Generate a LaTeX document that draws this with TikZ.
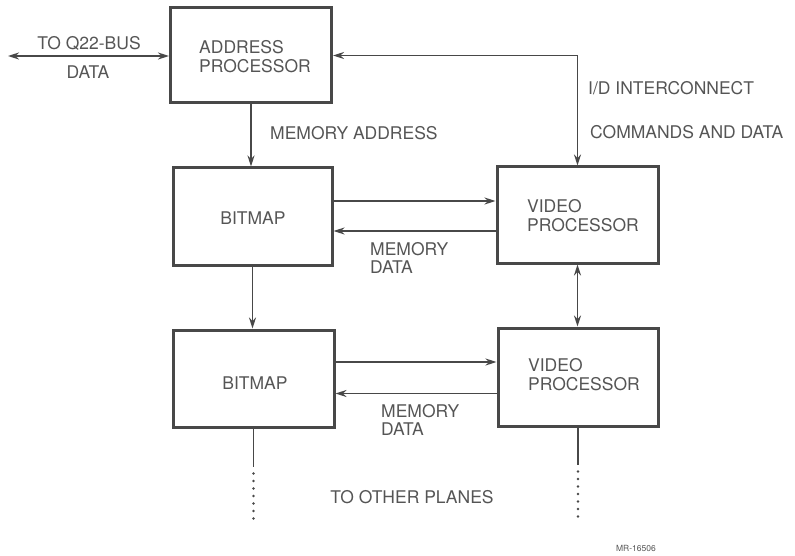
\documentclass[tikz,border=0pt]{standalone}
\usepackage{fontspec}
\setmainfont{TeX Gyre Heros}
\usetikzlibrary{arrows.meta}
\definecolor{ink}{HTML}{484848}
\definecolor{txt}{HTML}{555555}
\tikzset{
  blk/.style={draw=ink, line width=3pt, rectangle, inner sep=0pt},
  conn/.style={draw=ink, line width=1.8pt, -{Stealth[length=11pt,width=7pt]}},
  conn2/.style={draw=ink, line width=1.8pt, {Stealth[length=11pt,width=7pt]}-{Stealth[length=11pt,width=7pt]}},
  plain/.style={draw=ink, line width=1.8pt},
  dots/.style={draw=ink, line width=2.6pt, line cap=round, dash pattern=on 0pt off 7.5pt},
  lbl/.style={text=txt, font=\fontsize{17.5}{20}\selectfont, inner sep=0pt, align=left},
}
\begin{document}
\begin{tikzpicture}[x=1pt,y=-1pt]
\useasboundingbox (0,0) rectangle (795,556);
% boxes
\node[blk, minimum width=161pt, minimum height=95pt] (addr) at (251,55.5) {};
\node[blk, minimum width=159pt, minimum height=97pt] (bm1) at (252.5,216.5) {};
\node[blk, minimum width=161pt, minimum height=96pt] (vid1) at (577.5,215) {};
\node[blk, minimum width=161pt, minimum height=97pt] (bm2) at (253.5,378.5) {};
\node[blk, minimum width=160pt, minimum height=98pt] (vid2) at (578,377) {};
% box texts
\node[lbl, anchor=west] (addrt) at (199,57) {ADDRESS\\[-1pt]PROCESSOR};
\node[lbl] (bm1t) at (253,218) {BITMAP};
\node[lbl, anchor=west] (vid1t) at (527,216) {VIDEO\\[-1pt]PROCESSOR};
\node[lbl] (bm2t) at (255,383) {BITMAP};
\node[lbl, anchor=west] (vid2t) at (528,375) {VIDEO\\[-1pt]PROCESSOR};
% Q22 bus
\coordinate (busend) at (8,56);
\draw[conn2] (busend) -- (addr.west |- busend);
\node[lbl] (q22) at (89,43) {TO Q22-BUS};
\node[lbl] (datal) at (88,72) {DATA};
% I/D interconnect
\draw[conn2] (vid1.north) |- (addr.east);
\node[lbl, anchor=west] (idl) at (588,88) {I/D INTERCONNECT};
\node[lbl, anchor=west] (cmdl) at (590,132) {COMMANDS AND DATA};
% memory address
\draw[conn] (addr.south) -- (addr.south |- bm1.north);
\node[lbl, anchor=west] (mal) at (270,133) {MEMORY ADDRESS};
% bitmap1 <-> video1
\coordinate (b1a) at ([yshift=15.5pt]bm1.east);
\coordinate (v1b) at ([yshift=-16pt]vid1.west);
\draw[conn] (b1a) -- (vid1.west |- b1a);
\draw[conn] (v1b) -- (bm1.east |- v1b);
\node[lbl, anchor=west] (md1) at (370,258) {MEMORY\\[-2pt]DATA};
% bitmap1 -> bitmap2
\draw[conn] (bm1.south) -- (bm1.south |- bm2.north);
% video1 <-> video2
\draw[conn2] (vid1.south) -- (vid1.south |- vid2.north);
% bitmap2 <-> video2
\coordinate (b2a) at ([yshift=16.5pt]bm2.east);
\coordinate (v2b) at ([yshift=-16.5pt]vid2.west);
\draw[conn] (b2a) -- (vid2.west |- b2a);
\draw[conn] (v2b) -- (bm2.east |- v2b);
\node[lbl, anchor=west] (md2) at (381,420) {MEMORY\\[-2pt]DATA};
% to other planes
\coordinate (bmA) at ([yshift=-38pt]bm2.south);
\coordinate (bmC) at ([yshift=-45pt]bm2.south);
\coordinate (bmB) at ([yshift=-95pt]bm2.south);
\draw[plain] (bm2.south) -- (bmA);
\draw[dots] (bmC) -- (bmB);
\coordinate (vdA) at ([yshift=-37pt]vid2.south);
\coordinate (vdC) at ([yshift=-44pt]vid2.south);
\coordinate (vdB) at ([yshift=-94pt]vid2.south);
\draw[plain] (vid2.south) -- (vdA);
\draw[dots] (vdC) -- (vdB);
\node[lbl] (otherl) at (412,497) {TO OTHER PLANES};
\node[text=txt, font=\fontsize{8.5}{10}\selectfont, inner sep=0pt] (mr) at (636,548) {MR-16506};
\end{tikzpicture}
\end{document}
